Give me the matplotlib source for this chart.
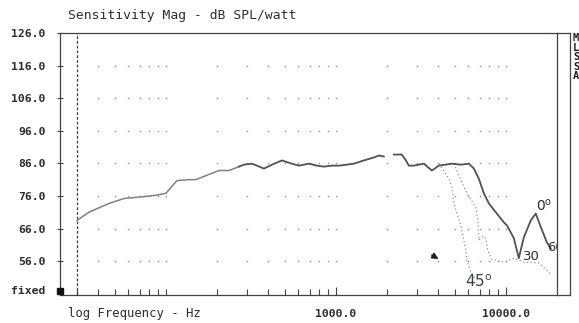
import numpy as np
import matplotlib
matplotlib.use("Agg")
import matplotlib.pyplot as plt
from matplotlib.lines import Line2D

# ── on-axis sensitivity (0 deg), dB SPL / watt ────────────────────────────────
FREQ_0 = [30, 35.2, 46.2, 56.6, 64.9, 74.3, 87.3, 100, 107, 116, 137, 150, 179,
          205, 235, 269, 288, 321, 343, 377, 421, 481, 551, 606, 694, 773, 850,
          947, 1042, 1161, 1276, 1462, 1673, 1791, 1915, 2050, 2195, 2444,
          2512, 2582, 2687, 2875, 3077, 3294, 3671, 4036, 4812, 5437, 6058,
          6486, 6934, 7424, 7943, 8851, 9731, 10140, 11150, 11610, 11920,
          12760, 14030, 15000, 16070, 17420, 18400]
SPL_0 = [68.5, 71.0, 73.7, 75.2, 75.5, 75.8, 76.2, 76.8, 78.6, 80.7, 81.0, 81.0,
         82.6, 83.8, 83.8, 85.0, 85.6, 85.9, 85.3, 84.4, 85.6, 86.9, 85.9, 85.3,
         85.9, 85.3, 85.0, 85.3, 85.3, 85.6, 85.9, 86.9, 87.8, 88.4, 88.1,
         np.nan, 88.7, 88.7, 87.8, 86.9, 85.3, 85.3, 85.6, 85.9, 83.8, 85.3,
         85.9, 85.6, 85.9, 84.4, 81.3, 76.8, 73.7, 70.6, 67.9, 67.0, 63.0,
         59.3, 56.9, 63.3, 68.5, 70.6, 66.4, 61.8, 59.9]

# ── off-axis curves (dotted) ──────────────────────────────────────────────────
FREQ_30 = [4945, 5898, 6662, 6845, 6934, 7323, 7620, 7828, 8251, 9731, 11166,
           12805, 15629, 18695]
SPL_30 = [85.9, 76.8, 72.5, 68.5, 62.4, 63.6, 63.0, 59.3, 56.6, 55.7, 56.9,
          55.7, 55.4, 51.7]

FREQ_45 = [4036, 4624, 4812, 4945, 5080, 5437, 5658, 5818, 5898, 6233, 6670]
SPL_45 = [85.9, 81.3, 78.6, 73.7, 71.6, 67.0, 62.4, 59.3, 56.3, 52.6, 50.2]

Y_TICKS = [126, 116, 106, 96, 86, 76, 66, 56]
GRID_LEVELS = [56, 66, 76, 86, 96, 106, 116]
GRID_FREQS = [40, 50, 60, 70, 80, 90, 100, 200, 300, 400, 500, 600, 700, 800,
              900, 1000, 2000, 3000, 4000, 5000, 6000, 7000, 8000, 9000, 10000]
MINOR_FREQS = [30, 40, 50, 60, 70, 80, 90, 100, 200, 300, 400, 500, 600, 700,
               800, 900, 2000, 3000, 4000, 5000, 6000, 7000, 8000, 9000]
X_MAJOR = [1000, 10000]
X_MAJOR_LABELS = ["1000.0", "10000.0"]

FIXED_LEVEL = 46.8
MONO = "DejaVu Sans Mono"
INK = "#2b2f2b"
CURVE = "#4d554e"

fig = plt.figure(figsize=(5.79, 3.23), dpi=100)
ax = fig.add_axes([60 / 579, 1 - 295 / 323, 497 / 579, 262 / 323])
ax.set_xscale("log")
ax.set_xlim(23.8, 20000)
ax.set_ylim(45.6, 126)

# dotted grid: one dot at every log tick on each 10 dB row
gx, gy = np.meshgrid(GRID_FREQS, GRID_LEVELS)
ax.scatter(gx.ravel(), gy.ravel(), s=1.2, color="#8c8c8c", lw=0, zorder=1)

# low-frequency limit marker
ax.axvline(30, color="#3a3a3a", lw=0.9, ls=(0, (2.2, 1.6)), zorder=2)

f0 = np.array(FREQ_0)
s0 = np.array(SPL_0)
lo = f0 <= 269
hi = f0 >= 269
ax.plot(f0[lo], s0[lo], color="#7d837d", lw=1.1, zorder=3)
ax.plot(f0[hi], s0[hi], color=CURVE, lw=1.3, zorder=3)
ax.plot(FREQ_30, SPL_30, color="#8f8f8f", lw=0.9, ls=(0, (1, 2)), zorder=2)
ax.plot(FREQ_45, SPL_45, color="#8f8f8f", lw=0.9, ls=(0, (1, 2)), zorder=2)

# angle labels
ax.text(16700, 73.1, r"0$^{\mathsf{o}}$", fontsize=10, color=INK,
        ha="center", va="center")
ax.text(14200, 57.4, "30", fontsize=9.5, color=INK, ha="center", va="center")
ax.text(6930, 49.6, r"45$^{\mathsf{o}}$", fontsize=11, color="#34463c",
        ha="center", va="center")
ax.text(17600, 60.2, "60", fontsize=9.5, color=INK, ha="left", va="center",
        clip_on=True)
ax.annotate("", xy=(4150, 56.2), xytext=(3550, 58.3),
            arrowprops=dict(arrowstyle="-|>", color="#1e1e1e", lw=1.1,
                            mutation_scale=9))

# axes styling
for side in ["left", "right", "top", "bottom"]:
    ax.spines[side].set_color("#3f443f")
    ax.spines[side].set_linewidth(0.9)

ax.set_yticks(Y_TICKS)
ax.set_yticklabels([f"{v:.1f}" for v in Y_TICKS], family=MONO,
                   fontweight="bold", fontsize=8.2, color=INK)
ax.tick_params(axis="y", direction="inout", length=5, width=0.8, pad=8,
               colors="#3f443f", labelcolor=INK)

ax.set_xticks(X_MAJOR)
ax.set_xticklabels(X_MAJOR_LABELS, family=MONO, fontweight="bold",
                   fontsize=8.2, color=INK)
ax.set_xticks(MINOR_FREQS, minor=True)
ax.set_xticklabels([], minor=True)
ax.tick_params(axis="x", which="major", direction="in", length=6, width=0.8,
               pad=10, colors="#3f443f", labelcolor=INK)
ax.tick_params(axis="x", which="minor", direction="in", length=4, width=0.8,
               colors="#3f443f")

# "fixed" marker on the left axis
ax.plot([23.8], [FIXED_LEVEL], marker="s", ms=4.5, color="#111111",
        clip_on=False, zorder=5)
fig.text(45 / 579, 1 - 291 / 323, "fixed", family=MONO, fontweight="bold",
         fontsize=8.2, color=INK, ha="right", va="center")

fig.text(68 / 579, 1 - 16 / 323, "Sensitivity Mag - dB SPL/watt", family=MONO,
         fontsize=9.4, color=INK, ha="left", va="center")
fig.text(68 / 579, 1 - 313 / 323, "log Frequency - Hz", family=MONO,
         fontsize=8.8, color=INK, ha="left", va="center")

# outer frame on the right with the vertical logo
frame = dict(color="#3f443f", lw=0.9, transform=fig.transFigure)
fig.add_artist(Line2D([557 / 579, 570 / 579], [1 - 33 / 323, 1 - 33 / 323], **frame))
fig.add_artist(Line2D([570 / 579, 570 / 579], [1 - 33 / 323, 1 - 295 / 323], **frame))
fig.add_artist(Line2D([557 / 579, 570 / 579], [1 - 295 / 323, 1 - 295 / 323], **frame))
fig.text(573 / 579, 1 - 33 / 323, "M\nL\nS\nS\nA", family=MONO,
         fontweight="bold", fontsize=7.5, linespacing=0.95, color="#1e1e1e",
         ha="left", va="top")

fig.savefig("out.png", dpi=100)
